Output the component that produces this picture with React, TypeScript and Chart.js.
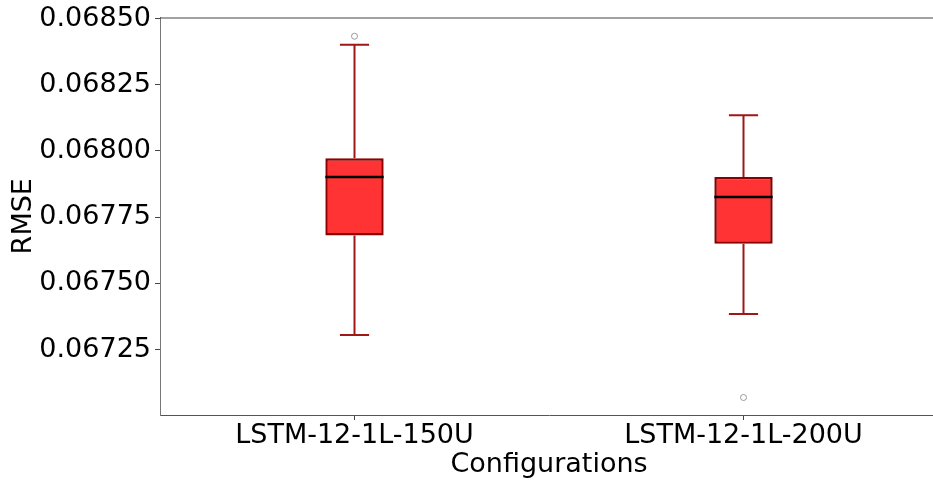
import React, { useEffect, useRef } from "react";
import { Chart, registerables } from "chart.js";

Chart.register(...registerables);

const categories = ["LSTM-12-1L-150U", "LSTM-12-1L-200U"];
const q1Values = [0.067681, 0.06765];
const q3Values = [0.067972, 0.067902];
const medianValues = [0.067902, 0.067826];
const whiskerLowValues = [0.067305, 0.067384];
const whiskerHighValues = [0.068401, 0.068135];
const outlierValues = [0.068433, 0.067069];
const yTickValues = [0.06725, 0.0675, 0.06775, 0.068, 0.06825, 0.0685];
const yMin = 0.067003;
const yMax = 0.0685038;

const FONT = "'DejaVu Sans', sans-serif";

const boxPlugin = {
  id: "boxExtras",
  afterDatasetsDraw(chart: any) {
    const ctx = chart.ctx;
    const x = chart.scales.x;
    const y = chart.scales.y;
    ctx.save();
    categories.forEach((_, i) => {
      const cx = x.getPixelForValue(i);
      const capL = x.getPixelForValue(i - 0.0375);
      const capR = x.getPixelForValue(i + 0.0375);
      const boxL = x.getPixelForValue(i - 0.075);
      const boxR = x.getPixelForValue(i + 0.075);
      ctx.strokeStyle = "#9e1818";
      ctx.lineWidth = 2;
      ctx.lineCap = "butt";
      ctx.beginPath();
      ctx.moveTo(cx, y.getPixelForValue(q3Values[i]));
      ctx.lineTo(cx, y.getPixelForValue(whiskerHighValues[i]));
      ctx.moveTo(cx, y.getPixelForValue(q1Values[i]));
      ctx.lineTo(cx, y.getPixelForValue(whiskerLowValues[i]));
      ctx.moveTo(capL, y.getPixelForValue(whiskerHighValues[i]));
      ctx.lineTo(capR, y.getPixelForValue(whiskerHighValues[i]));
      ctx.moveTo(capL, y.getPixelForValue(whiskerLowValues[i]));
      ctx.lineTo(capR, y.getPixelForValue(whiskerLowValues[i]));
      ctx.stroke();
      ctx.strokeStyle = "#000000";
      ctx.lineWidth = 2.5;
      ctx.beginPath();
      const my = y.getPixelForValue(medianValues[i]);
      ctx.moveTo(boxL, my);
      ctx.lineTo(boxR, my);
      ctx.stroke();
    });
    const a = chart.chartArea;
    ctx.strokeStyle = "#444444";
    ctx.lineWidth = 1;
    ctx.beginPath();
    ctx.moveTo(a.left, a.top + 0.5);
    ctx.lineTo(a.right, a.top + 0.5);
    ctx.stroke();
    ctx.restore();
  },
};

export default function App() {
  const ref = useRef<HTMLCanvasElement | null>(null);
  useEffect(() => {
    if (!ref.current) return;
    const chart = new Chart(ref.current, {
      type: "bar",
      data: {
        labels: categories,
        datasets: [
          {
            type: "bar",
            data: categories.map((_, i) => [q1Values[i], q3Values[i]]) as any,
            backgroundColor: "#ff3333",
            borderColor: "#8b0000",
            borderWidth: 2.5,
            borderSkipped: false,
            categoryPercentage: 1,
            barPercentage: 0.15,
          },
          {
            type: "line",
            data: outlierValues as any,
            showLine: false,
            pointStyle: "circle",
            pointRadius: 3,
            pointBorderWidth: 1,
            pointBorderColor: "#999999",
            pointBackgroundColor: "rgba(0,0,0,0)",
          } as any,
        ],
      },
      options: {
        responsive: false,
        animation: false,
        layout: { padding: { top: 16, right: 0, left: 0, bottom: 0 } },
        plugins: { legend: { display: false }, tooltip: { enabled: false } },
        scales: {
          x: {
            offset: true,
            grid: { offset: false, drawOnChartArea: false, drawTicks: true, tickLength: 5, color: "#444444" },
            border: { display: true, color: "#555555", width: 1 },
            ticks: { color: "#000000", font: { family: FONT, size: 27 }, padding: 0, maxRotation: 0 },
            title: {
              display: true,
              text: "Configurations",
              color: "#000000",
              font: { family: FONT, size: 27 },
              padding: { top: 0, bottom: 0 },
            },
            afterFit: (s: any) => {
              s.height = 66;
            },
          },
          y: {
            min: yMin,
            max: yMax,
            grid: { drawOnChartArea: false, drawTicks: true, tickLength: 5, color: "#444444" },
            border: { display: true, color: "#777777", width: 1 },
            ticks: {
              color: "#000000",
              font: { family: FONT, size: 27, lineHeight: 1 },
              padding: 4,
              callback: (v: any) => Number(v).toFixed(5),
            },
            afterBuildTicks: (s: any) => {
              s.ticks = yTickValues.map((v) => ({ value: v }));
            },
            title: {
              display: true,
              text: "RMSE",
              color: "#000000",
              font: { family: FONT, size: 27 },
              padding: { top: 8, bottom: 0 },
            },
            afterFit: (s: any) => {
              s.width = 160;
            },
          },
        },
      },
      plugins: [boxPlugin],
    });
    return () => chart.destroy();
  }, []);
  return (
    <div
      style={{
        position: "absolute",
        left: 0,
        top: 0,
        width: 933,
        height: 481,
        overflow: "hidden",
        background: "#ffffff",
      }}
    >
      <canvas ref={ref} width={943} height={481} style={{ display: "block" }} />
    </div>
  );
}
